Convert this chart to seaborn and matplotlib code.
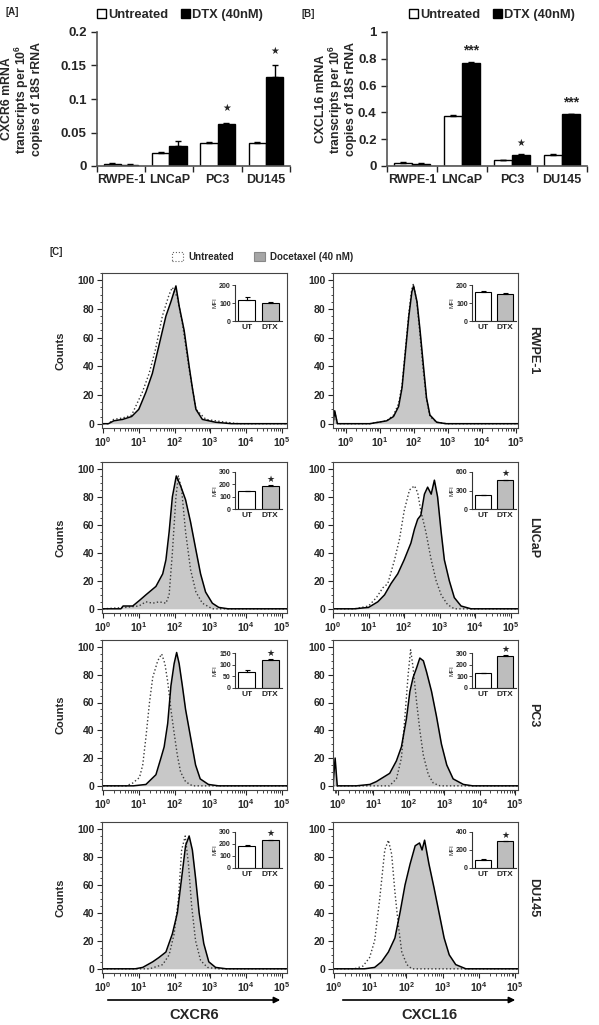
import numpy as np
import pandas as pd
import matplotlib
matplotlib.use('Agg')
import matplotlib.pyplot as plt
import seaborn as sns
from matplotlib.patches import Patch
from matplotlib.ticker import FixedLocator, MultipleLocator

W, H = 599, 1025

# ---- qPCR bar charts (panels A and B) ----
cell_lines = ['RWPE-1', 'LNCaP', 'PC3', 'DU145']
treatments = ['Untreated', 'DTX (40nM)']

cxcr6_mrna_ut = [0.003, 0.020, 0.035, 0.035]
cxcr6_mrna_ut_err = [0.001, 0.001, 0.001, 0.001]
cxcr6_mrna_dtx = [0.002, 0.030, 0.062, 0.133]
cxcr6_mrna_dtx_err = [0.001, 0.008, 0.002, 0.017]
cxcr6_mrna_sig = ['', '', '★', '★']

cxcl16_mrna_ut = [0.025, 0.370, 0.045, 0.085]
cxcl16_mrna_ut_err = [0.002, 0.010, 0.002, 0.008]
cxcl16_mrna_dtx = [0.018, 0.770, 0.083, 0.385]
cxcl16_mrna_dtx_err = [0.002, 0.005, 0.005, 0.005]
cxcl16_mrna_sig = ['', '***', '★', '***']

# ---- MFI insets (UT, DTX) per cell line ----
mfi_groups = ['UT', 'DTX']
cxcr6_mfi = [[118, 98], [145, 188], [67, 122], [180, 235]]
cxcr6_mfi_err = [[18, 5], [5, 3], [10, 2], [10, 2]]
cxcr6_mfi_ymax = [200, 300, 150, 300]
cxcr6_mfi_sig = [False, True, True, True]
cxcl16_mfi = [[160, 152], [220, 465], [125, 275], [92, 295]]
cxcl16_mfi_err = [[5, 3], [3, 10], [2, 5], [8, 5]]
cxcl16_mfi_ymax = [200, 600, 300, 400]
cxcl16_mfi_sig = [False, True, True, True]

# ---- flow histograms: log10 intensity vs counts ----
cxcr6_rwpe_ut_x = [0.0, 0.15, 0.3, 0.55, 0.8, 1.1, 1.29, 1.47, 1.66, 1.85, 1.94, 2.08, 2.22, 2.41, 2.6, 2.88, 3.44, 3.8, 5.15]
cxcr6_rwpe_ut_y = [0, 0, 3, 4, 6, 22, 35, 52, 75, 90, 95, 88, 70, 38, 10, 3, 1, 0, 0]
cxcr6_rwpe_dtx_x = [0.0, 0.15, 0.3, 0.55, 0.8, 1.0, 1.2, 1.38, 1.57, 1.76, 1.9, 2.04, 2.13, 2.27, 2.41, 2.5, 2.6, 2.78, 3.15, 3.6, 5.15]
cxcr6_rwpe_dtx_y = [0, 0, 2, 3, 5, 10, 22, 35, 55, 75, 85, 96, 82, 65, 40, 25, 10, 3, 1, 0, 0]

cxcl16_rwpe_ut_x = [-0.38, -0.33, -0.25, 0.7, 1.2, 1.4, 1.55, 1.65, 1.75, 1.85, 1.93, 1.98, 2.08, 2.17, 2.27, 2.37, 2.47, 2.67, 2.95, 5.06]
cxcl16_rwpe_ut_y = [0, 8, 0, 0, 2, 6, 14, 27, 52, 77, 93, 97, 86, 64, 38, 17, 5, 1, 0, 0]
cxcl16_rwpe_dtx_x = [-0.38, -0.33, -0.25, 0.7, 1.2, 1.4, 1.55, 1.65, 1.75, 1.85, 1.94, 1.99, 2.09, 2.18, 2.28, 2.37, 2.47, 2.67, 2.95, 5.06]
cxcl16_rwpe_dtx_y = [0, 9, 0, 0, 2, 5, 12, 25, 50, 75, 92, 96, 85, 65, 40, 18, 6, 1, 0, 0]

cxcr6_lncap_ut_x = [0.0, 0.63, 1.0, 1.2, 1.39, 1.57, 1.76, 1.85, 1.94, 2.04, 2.11, 2.2, 2.31, 2.45, 2.6, 2.78, 3.06, 5.15]
cxcr6_lncap_ut_y = [0, 1, 2, 5, 4, 5, 4, 10, 40, 80, 95, 85, 55, 28, 12, 4, 0, 0]
cxcr6_lncap_dtx_x = [0.0, 0.5, 0.56, 0.83, 1.02, 1.2, 1.34, 1.48, 1.67, 1.76, 1.85, 1.94, 2.05, 2.17, 2.31, 2.45, 2.6, 2.73, 2.87, 3.06, 3.24, 3.5, 5.15]
cxcr6_lncap_dtx_y = [0, 0, 2, 2, 6, 10, 13, 16, 25, 35, 55, 80, 95, 88, 78, 62, 42, 25, 12, 4, 1, 0, 0]

cxcl16_lncap_ut_x = [0.0, 0.61, 1.0, 1.22, 1.4, 1.54, 1.73, 1.87, 2.0, 2.15, 2.29, 2.38, 2.47, 2.61, 2.76, 2.9, 3.04, 3.22, 3.41, 5.2]
cxcl16_lncap_ut_y = [0, 0, 2, 8, 15, 18, 35, 50, 70, 85, 88, 83, 70, 55, 35, 20, 10, 3, 0, 0]
cxcl16_lncap_dtx_x = [0.0, 0.6, 1.0, 1.26, 1.45, 1.63, 1.82, 2.0, 2.19, 2.29, 2.38, 2.47, 2.57, 2.66, 2.76, 2.85, 2.94, 3.04, 3.13, 3.27, 3.41, 3.6, 3.88, 5.2]
cxcl16_lncap_dtx_y = [0, 0, 1, 5, 10, 18, 25, 35, 47, 57, 64, 67, 82, 87, 82, 92, 80, 55, 35, 20, 8, 2, 0, 0]

cxcr6_pc3_ut_x = [0.0, 0.65, 0.83, 1.02, 1.11, 1.2, 1.3, 1.39, 1.53, 1.64, 1.73, 1.81, 1.9, 1.99, 2.08, 2.17, 2.31, 2.5, 5.15]
cxcr6_pc3_ut_y = [0, 0, 2, 6, 15, 35, 60, 78, 90, 95, 88, 75, 55, 38, 22, 10, 3, 0, 0]
cxcr6_pc3_dtx_x = [0.0, 0.85, 1.2, 1.48, 1.62, 1.71, 1.81, 1.9, 1.99, 2.06, 2.13, 2.22, 2.31, 2.45, 2.59, 2.72, 2.95, 3.23, 5.15]
cxcr6_pc3_dtx_y = [0, 0, 1, 8, 20, 28, 45, 72, 88, 96, 88, 72, 55, 35, 15, 5, 1, 0, 0]

cxcl16_pc3_ut_x = [-0.14, 1.45, 1.65, 1.79, 1.89, 1.98, 2.05, 2.12, 2.22, 2.31, 2.41, 2.55, 2.69, 2.88, 5.08]
cxcl16_pc3_ut_y = [0, 0, 5, 20, 50, 80, 98, 85, 60, 40, 22, 8, 2, 0, 0]
cxcl16_pc3_dtx_x = [-0.14, -0.08, -0.02, 0.52, 0.9, 1.08, 1.27, 1.46, 1.65, 1.79, 1.93, 2.03, 2.12, 2.22, 2.31, 2.41, 2.5, 2.64, 2.78, 2.92, 3.07, 3.25, 3.54, 3.8, 5.08]
cxcl16_pc3_dtx_y = [0, 20, 0, 0, 1, 3, 6, 9, 18, 28, 48, 68, 78, 85, 92, 90, 82, 68, 50, 30, 15, 5, 1, 0, 0]

cxcr6_du145_ut_x = [0.0, 1.3, 1.67, 1.85, 1.99, 2.11, 2.2, 2.3, 2.39, 2.48, 2.59, 2.73, 2.92, 3.2, 5.15]
cxcr6_du145_ut_y = [0, 0, 3, 10, 25, 50, 85, 95, 75, 45, 20, 6, 1, 0, 0]
cxcr6_du145_dtx_x = [0.0, 0.9, 1.11, 1.39, 1.56, 1.76, 1.94, 2.08, 2.2, 2.31, 2.41, 2.5, 2.59, 2.69, 2.82, 2.96, 3.15, 3.45, 5.15]
cxcr6_du145_dtx_y = [0, 0, 1, 5, 8, 12, 25, 40, 65, 88, 95, 85, 65, 40, 18, 5, 1, 0, 0]

cxcl16_du145_ut_x = [-0.03, 0.56, 0.8, 0.98, 1.12, 1.26, 1.4, 1.5, 1.59, 1.68, 1.78, 1.87, 2.01, 2.15, 5.08]
cxcl16_du145_ut_y = [0, 0, 2, 8, 20, 50, 85, 92, 82, 55, 30, 12, 3, 0, 0]
cxcl16_du145_dtx_x = [-0.03, 0.84, 1.12, 1.31, 1.5, 1.68, 1.82, 1.96, 2.1, 2.24, 2.36, 2.43, 2.5, 2.62, 2.76, 2.9, 3.04, 3.18, 3.36, 3.64, 5.08]
cxcl16_du145_dtx_y = [0, 0, 1, 5, 12, 22, 40, 60, 75, 88, 90, 85, 92, 75, 58, 40, 22, 10, 3, 0, 0]

cxcr6_xlims = [(-0.03, 5.15)] * 4
cxcl16_xlims = [(-0.38, 5.06), (0.0, 5.2), (-0.14, 5.08), (-0.03, 5.08)]

sns.set_style('ticks')
plt.rcParams['font.family'] = ['Liberation Sans', 'DejaVu Sans']
plt.rcParams['font.weight'] = 'bold'
plt.rcParams['mathtext.fontset'] = 'custom'
plt.rcParams['mathtext.rm'] = 'Liberation Sans:bold'
plt.rcParams['mathtext.bf'] = 'Liberation Sans:bold'
plt.rcParams['mathtext.it'] = 'Liberation Sans:bold:italic'

fig = plt.figure(figsize=(W / 100, H / 100), dpi=100)


def px_axes(left, top, right, bottom):
    return fig.add_axes([left / W, 1 - bottom / H, (right - left) / W, (bottom - top) / H])


def mrna_panel(ax, ut, ut_err, dtx, dtx_err, sig, ymax, ystep, ylabel, star_off, leg_x, lab_x):
    df = pd.DataFrame({
        'cell': cell_lines * 2,
        'treatment': [treatments[0]] * 4 + [treatments[1]] * 4,
        'value': ut + dtx,
    })
    sns.barplot(data=df, x='cell', y='value', hue='treatment', order=cell_lines,
                hue_order=treatments, palette={treatments[0]: 'white', treatments[1]: 'black'},
                edgecolor='black', linewidth=1.0, width=0.72, errorbar=None,
                legend=False, ax=ax)
    pos = np.arange(len(cell_lines))
    ax.errorbar(pos - 0.18, ut, yerr=[np.zeros(4), ut_err], fmt='none', ecolor='black',
                elinewidth=1, capsize=2.5, capthick=1)
    ax.errorbar(pos + 0.18, dtx, yerr=[np.zeros(4), dtx_err], fmt='none', ecolor='black',
                elinewidth=1, capsize=2.5, capthick=1)
    for i, s in enumerate(sig):
        if not s:
            continue
        fs = 7 if s == '★' else 10
        ax.text(i + 0.18, dtx[i] + dtx_err[i] + star_off, s, ha='center', va='center',
                fontsize=fs, fontweight='bold')
    ax.set_xlim(-0.5, 3.5)
    ax.set_ylim(0, ymax)
    ax.yaxis.set_major_locator(MultipleLocator(ystep))
    ax.set_yticklabels([f'{v:g}' for v in ax.get_yticks()])
    ax.xaxis.set_minor_locator(FixedLocator([-0.5, 0.5, 1.5, 2.5, 3.5]))
    ax.tick_params(axis='x', which='major', length=0, labelsize=9, pad=6)
    ax.tick_params(axis='x', which='minor', length=4, width=1)
    ax.tick_params(axis='y', length=4, width=1, labelsize=9.5)
    ax.set_xlabel('')
    ax.set_ylabel(ylabel, fontsize=8.8, fontweight='bold', linespacing=1.0)
    ax.yaxis.set_label_coords(lab_x, 0.5)
    for side in ['left', 'bottom']:
        ax.spines[side].set_color('#555555')
        ax.spines[side].set_linewidth(1.2)
    sns.despine(ax=ax)
    handles = [Patch(facecolor='white', edgecolor='black'), Patch(facecolor='black', edgecolor='black')]
    ax.legend(handles, treatments, ncol=2, loc='center left', bbox_to_anchor=(leg_x, 1.13),
              frameon=False, handlelength=0.7, handleheight=0.7, handletextpad=0.15,
              columnspacing=1.0, borderaxespad=0, borderpad=0,
              prop={'weight': 'bold', 'size': 9.3})


ax_a = px_axes(97, 32, 290, 166)
mrna_panel(ax_a, cxcr6_mrna_ut, cxcr6_mrna_ut_err, cxcr6_mrna_dtx, cxcr6_mrna_dtx_err,
           cxcr6_mrna_sig, 0.2, 0.05,
           'CXCR6 mRNA\ntranscripts per $10^6$\ncopies of 18S rRNA', 0.022, 0.0, -0.28)
ax_b = px_axes(387, 32, 587, 166)
mrna_panel(ax_b, cxcl16_mrna_ut, cxcl16_mrna_ut_err, cxcl16_mrna_dtx, cxcl16_mrna_dtx_err,
           cxcl16_mrna_sig, 1.0, 0.2,
           'CXCL16 mRNA\ntranscripts per $10^6$\ncopies of 18S rRNA', 0.085, 0.11, -0.15)

fig.text(5 / W, 1 - 12 / H, '[A]', fontsize=7, fontweight='bold', va='center')
fig.text(302 / W, 1 - 14 / H, '[B]', fontsize=7, fontweight='bold', va='center')
fig.text(50 / W, 1 - 252 / H, '[C]', fontsize=7, fontweight='bold', va='center')

# ---- panel C legend ----
c_handles = [Patch(facecolor='white', edgecolor='#666666', linestyle=':', linewidth=0.8),
             Patch(facecolor='#a6a6a6', edgecolor='#888888', linewidth=0.8)]
fig.legend(c_handles, ['Untreated', 'Docetaxel (40 nM)'], ncol=2, loc='center',
           bbox_to_anchor=(263 / W, 1 - 257 / H), frameon=False, handlelength=1.1,
           handleheight=1.1, handletextpad=0.6, columnspacing=2.0,
           prop={'weight': 'bold', 'size': 7})

rows_px = [(273, 428), (462, 613), (640, 790), (822, 973)]
row_names = ['RWPE-1', 'LNCaP', 'PC3', 'DU145']
cols = [
    dict(left=102, right=287, inset=(235, 282), xlims=cxcr6_xlims, mfi=cxcr6_mfi,
         err=cxcr6_mfi_err, ymax=cxcr6_mfi_ymax, sig=cxcr6_mfi_sig,
         curves=[(cxcr6_rwpe_ut_x, cxcr6_rwpe_ut_y, cxcr6_rwpe_dtx_x, cxcr6_rwpe_dtx_y),
                 (cxcr6_lncap_ut_x, cxcr6_lncap_ut_y, cxcr6_lncap_dtx_x, cxcr6_lncap_dtx_y),
                 (cxcr6_pc3_ut_x, cxcr6_pc3_ut_y, cxcr6_pc3_dtx_x, cxcr6_pc3_dtx_y),
                 (cxcr6_du145_ut_x, cxcr6_du145_ut_y, cxcr6_du145_dtx_x, cxcr6_du145_dtx_y)]),
    dict(left=333, right=518, inset=(472, 516), xlims=cxcl16_xlims, mfi=cxcl16_mfi,
         err=cxcl16_mfi_err, ymax=cxcl16_mfi_ymax, sig=cxcl16_mfi_sig,
         curves=[(cxcl16_rwpe_ut_x, cxcl16_rwpe_ut_y, cxcl16_rwpe_dtx_x, cxcl16_rwpe_dtx_y),
                 (cxcl16_lncap_ut_x, cxcl16_lncap_ut_y, cxcl16_lncap_dtx_x, cxcl16_lncap_dtx_y),
                 (cxcl16_pc3_ut_x, cxcl16_pc3_ut_y, cxcl16_pc3_dtx_x, cxcl16_pc3_dtx_y),
                 (cxcl16_du145_ut_x, cxcl16_du145_ut_y, cxcl16_du145_dtx_x, cxcl16_du145_dtx_y)]),
]
inset_rows = [(285, 321), (472, 509), (653, 688), (832, 868)]


def draw_inset(ax, vals, errs, ymax, sig):
    sns.barplot(x=mfi_groups, y=vals, hue=mfi_groups, palette=['white', '#bdbdbd'],
                edgecolor='black', linewidth=0.8, width=0.72, errorbar=None,
                legend=False, ax=ax)
    ax.errorbar([0, 1], vals, yerr=[[0, 0], errs], fmt='none', ecolor='black',
                elinewidth=0.8, capsize=1.8, capthick=0.8)
    if sig:
        ax.text(1, vals[1] + errs[1] + ymax * 0.16, '★', ha='center', va='center',
                fontsize=6.5)
    ax.set_xlim(-0.5, 1.5)
    ax.set_ylim(0, ymax)
    step = ymax / 3 if ymax in (300, 150) else ymax / 2
    ax.yaxis.set_major_locator(MultipleLocator(step))
    ax.tick_params(axis='y', length=2, width=0.6, labelsize=5, pad=1)
    ax.tick_params(axis='x', length=0, labelsize=6, pad=2)
    ax.set_ylabel('MFI', fontsize=4.5, labelpad=1)
    ax.set_xlabel('')
    ax.patch.set_alpha(0)
    sns.despine(ax=ax)
    for side in ['left', 'bottom']:
        ax.spines[side].set_linewidth(0.8)
        ax.spines[side].set_color('#333333')


for c, col in enumerate(cols):
    for r, (top, bottom) in enumerate(rows_px):
        ax = px_axes(col['left'], top, col['right'], bottom)
        ux, uy, dx, dy = col['curves'][r]
        ax.fill_between(dx, dy, 0, color='#c8c8c8', linewidth=0)
        sns.lineplot(x=ux, y=uy, ax=ax, color='#3a3a3a', linewidth=1.0, linestyle=':',
                     sort=False, estimator=None)
        sns.lineplot(x=dx, y=dy, ax=ax, color='black', linewidth=1.1, sort=False,
                     estimator=None)
        lo, hi = col['xlims'][r]
        ax.set_xlim(lo, hi)
        ax.set_ylim(-3, 105)
        ax.set_xticks(range(6))
        ax.set_xticklabels([f'$10^{{{d}}}$' for d in range(6)])
        minor = [d + np.log10(k) for d in range(-1, 6) for k in range(2, 10)]
        ax.xaxis.set_minor_locator(FixedLocator([m for m in minor if lo <= m <= hi]))
        ax.set_yticks([0, 20, 40, 60, 80, 100])
        ax.yaxis.set_minor_locator(MultipleLocator(5))
        ax.tick_params(which='major', length=3.5, width=0.8, labelsize=7.5, pad=2)
        ax.tick_params(which='minor', length=1.8, width=0.6)
        for s in ax.spines.values():
            s.set_linewidth(0.8)
            s.set_color('#444444')
        if c == 0:
            ax.set_ylabel('Counts', fontsize=8, fontweight='bold')
            ax.yaxis.set_label_coords(-0.2, 0.5)
        else:
            ax.set_ylabel('')
            fig.text(533 / W, 1 - (top + bottom) / 2 / H, row_names[r], rotation=-90,
                     ha='center', va='center', fontsize=9, fontweight='bold')
        il, ir = col['inset']
        it, ib = inset_rows[r]
        iax = px_axes(il, it, ir, ib)
        draw_inset(iax, col['mfi'][r], col['err'][r], col['ymax'][r], col['sig'][r])

# x axis arrows and marker labels
for x0, x1, label in [(105, 283, 'CXCR6'), (340, 518, 'CXCL16')]:
    fig.add_artist(matplotlib.patches.FancyArrowPatch(
        (x0 / W, 1 - 1000 / H), (x1 / W, 1 - 1000 / H), transform=fig.transFigure,
        arrowstyle='-|>', mutation_scale=9, color='black', linewidth=1.2))
    fig.text((x0 + x1) / 2 / W, 1 - 1015 / H, label, ha='center', va='center',
             fontsize=10.5, fontweight='bold')

fig.savefig('out.png', dpi=100)
